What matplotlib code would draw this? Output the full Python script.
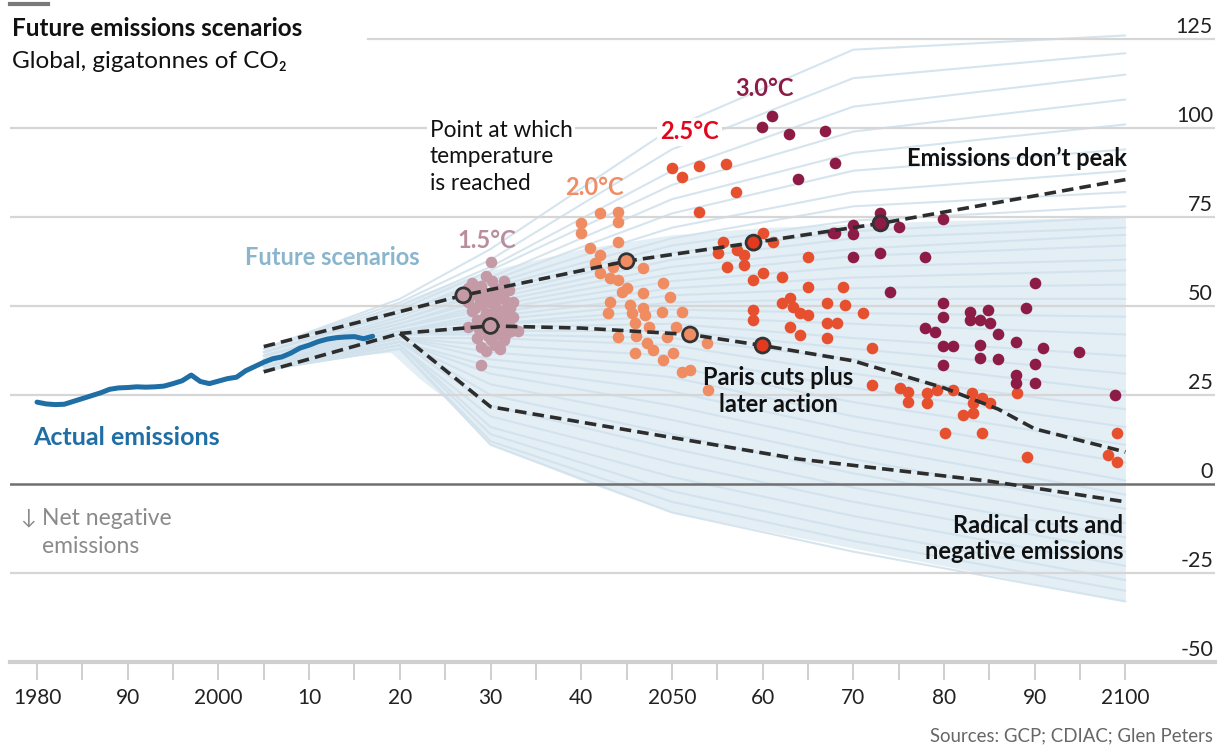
import matplotlib
matplotlib.use("Agg")
import matplotlib.pyplot as plt
from matplotlib.lines import Line2D

plt.rcParams['font.family'] = ['Lato', 'DejaVu Sans']

# ---- data ----
actual_years = list(range(1980, 2018))
actual_vals = [23.0, 22.5, 22.3, 22.4, 23.2, 24.0, 24.8, 25.6, 26.6, 27.0,
               27.1, 27.3, 27.2, 27.3, 27.5, 28.2, 29.0, 30.6, 28.8, 28.2,
               28.9, 29.6, 30.0, 31.8, 33.0, 34.2, 35.2, 35.7, 36.8, 38.2,
               39.0, 40.0, 40.7, 41.1, 41.3, 41.4, 40.8, 41.5]

fan_years = [2005, 2010, 2015, 2019, 2022, 2025, 2030, 2040, 2050, 2060, 2070, 2080, 2090, 2100]
fan_top = [38.5, 42, 46, 50, 53, 56, 60, 66, 70, 72, 73, 74, 74.5, 75]
fan_bottom = [31.5, 34, 36, 37, 30, 24, 11, 1, -8, -13, -18, -23, -28, -33]

scen_years = [2005, 2020, 2030, 2050, 2070, 2100]
scen_lines = [
    [38, 52, 66, 100, 122, 126],
    [38, 51, 63, 94, 114, 121],
    [38, 50, 61, 88, 106, 115],
    [37, 49, 60, 84, 99, 108],
    [37, 48, 58, 80, 93, 101],
    [37, 48, 57, 76, 88, 94],
    [36, 47, 56, 72, 82, 88],
    [36, 46, 55, 69, 78, 82],
    [36, 46, 54, 67, 74, 78],
    [36, 45, 53, 65, 71, 75],
    [35, 45, 52, 63, 69, 72],
    [35, 44, 51, 61, 66, 70],
    [35, 44, 50, 59, 64, 67],
    [35, 44, 49, 57, 61, 63],
    [35, 43, 48, 55, 58, 60],
    [34, 43, 47, 53, 55, 56],
    [34, 43, 46, 51, 52, 52],
    [34, 42, 45, 49, 48, 47],
    [34, 42, 45, 47, 45, 42],
    [34, 42, 44, 45, 41, 36],
    [33, 42, 43, 43, 38, 31],
    [33, 42, 42, 41, 35, 26],
    [33, 41, 41, 39, 31, 21],
    [33, 41, 39, 36, 27, 16],
    [33, 41, 37, 33, 23, 11],
    [33, 41, 35, 30, 19, 6],
    [33, 40, 33, 26, 15, 1],
    [32, 40, 31, 22, 11, -3],
    [32, 40, 28, 18, 7, -7],
    [32, 40, 25, 14, 3, -11],
    [32, 40, 22, 10, -1, -15],
    [32, 39, 19, 6, -5, -19],
    [32, 39, 16, 2, -9, -23],
    [32, 39, 14, -2, -13, -27],
    [32, 38, 12, -5, -16, -30],
    [32, 38, 11, -8, -19, -33],
]

nopeak_years = [2005, 2027, 2045, 2059, 2073, 2100]
nopeak_vals = [38.6, 53.0, 62.6, 67.8, 73.2, 85.5]
paris_years = [2005, 2020, 2030, 2040, 2052, 2060, 2070, 2080, 2086, 2090, 2100]
paris_vals = [31.5, 42.3, 44.4, 43.8, 42.0, 38.9, 34.6, 27.0, 21.0, 15.5, 9.0]
radical_years = [2020, 2030, 2064, 2085, 2100]
radical_vals = [42.3, 21.7, 7.0, 0.8, -5.0]

# points where temperature is reached on the highlighted pathways
mark_nopeak_years = [2027, 2045, 2059, 2073]
mark_nopeak_vals = [53.0, 62.6, 67.8, 73.2]
mark_paris_years = [2030, 2052, 2060]
mark_paris_vals = [44.4, 42.0, 38.9]

t15_years = [2030, 2029.5, 2031.5, 2028, 2027.5, 2029, 2030.5, 2032, 2028.5, 2030, 2031.5,
             2032.5, 2027.5, 2029, 2030.5, 2031.5, 2028, 2029.5, 2031, 2032.5, 2028.5, 2030,
             2032, 2027.5, 2029, 2031, 2033, 2028.5, 2030, 2031.5, 2029, 2031, 2029,
             2028.2, 2029.2, 2030.2, 2031.2, 2032.2, 2028.8, 2029.8, 2030.8, 2031.8, 2028.3,
             2029.3, 2030.3, 2031.3, 2032.3, 2028.7, 2029.7, 2030.7, 2031.7, 2029.5, 2030.5]
t15_vals = [62.5, 58.5, 57, 56.5, 55, 55.5, 55, 54.5, 53, 52.5, 52,
            51, 51, 50.5, 50, 49, 48.5, 48, 47.5, 47, 46, 45.5,
            45, 44, 43.5, 43, 43, 41, 40.5, 40.5, 38.5, 38, 33.5,
            54, 53.5, 57, 54, 49.5, 51.5, 51, 52.5, 46, 49.5,
            46.5, 48, 45, 43, 43.5, 41.5, 42, 42, 37.5, 39]

t20_years = [2042.1, 2044.1, 2044.1, 2040.0, 2040.0, 2044.1, 2041, 2042.1, 2046.8, 2042.1,
             2043.2, 2044.1, 2045, 2049, 2046.8, 2049.8, 2043.2, 2045.4, 2046.8, 2043,
             2045.6, 2047, 2048.9, 2051.1, 2045.9, 2044.1, 2047.3, 2049.5, 2050.1, 2045.9,
             2047.9, 2049, 2051.1, 2052, 2054, 2053.9, 2041.5, 2043.5, 2044.5, 2047.5,
             2046, 2050.5]
t20_vals = [76.0, 76.5, 73.7, 73.2, 70.4, 68.1, 66.2, 64.3, 60.6, 59.3,
            57.9, 57.3, 55, 56.4, 53.6, 52.5, 51.1, 50.3, 49.4, 48,
            48, 47.5, 48.3, 48.3, 45.2, 41.3, 39.6, 41.3, 36.8, 36.8,
            37.6, 34.8, 31.5, 32, 26.4, 39.6, 62, 61, 54, 44,
            41.5, 44]

t25_years = [2050, 2051.1, 2053, 2056, 2057.1, 2053, 2060, 2055.6, 2057.2, 2055.1,
             2058, 2061.1, 2056.1, 2058, 2065, 2060, 2058.9, 2062.1, 2065, 2068.9,
             2063, 2062.1, 2063.4, 2064.1, 2065, 2067.1, 2069.1, 2058.9, 2058.9, 2063,
             2064.1, 2067.1, 2068.2, 2067.1, 2071.1, 2072.1, 2072.1, 2075.1, 2076, 2076,
             2078.1, 2078.1, 2079.2, 2081, 2083.1, 2084.2, 2085.1, 2083.2, 2082.1, 2083.2,
             2088, 2080.1, 2084.2, 2089.2, 2099.1, 2098.1, 2099.1]
t25_vals = [88.7, 86.3, 89.3, 89.9, 82.1, 76.5, 70.5, 68.1, 65.7, 64.9,
            64.3, 68.1, 61, 61.5, 63.8, 59.2, 57.3, 58.2, 55.4, 55.4,
            52.2, 50.8, 49.8, 47.9, 47.5, 50.8, 50.3, 48.9, 46.1, 44.2,
            41.9, 45.1, 45.1, 40.9, 47.9, 38.1, 27.8, 26.9, 25.9, 23.1,
            25.5, 22.7, 26.4, 26.4, 25.5, 24.1, 22.7, 22.7, 19.4, 19.9,
            25.5, 14.2, 14.2, 7.7, 14.2, 8.1, 6.3]

t30_years = [2061, 2059.9, 2062.9, 2066.9, 2068, 2063.9, 2072.9, 2068, 2070, 2070,
             2075, 2079.9, 2070, 2072.9, 2077.9, 2074, 2090, 2079.9, 2079.9, 2089,
             2077.9, 2079, 2082.9, 2082.9, 2084.9, 2084, 2085.1, 2086, 2079.9, 2081,
             2084, 2087.9, 2090.9, 2094.9, 2079.9, 2084, 2086, 2090, 2087.9, 2087.9,
             2090, 2098.9, 2067.8]
t30_vals = [103.4, 100.4, 98.3, 99.2, 90.3, 85.7, 76, 70.4, 72.8, 70.2,
            72.1, 74.4, 63.9, 65, 63.9, 54, 56.4, 50.8, 47, 49.5,
            43.7, 42.8, 48.4, 46.1, 48.9, 46.1, 45.1, 42.1, 38.8, 38.8,
            39, 40, 38.3, 37.2, 33.4, 35.3, 35, 33.6, 30.6, 28.3,
            28.5, 25, 70.6]

grid_levels = [125, 100, 75, 50, 25, 0, -25, -50]
xtick_years = list(range(1980, 2101, 10))
xtick_labels = ['1980', '90', '2000', '10', '20', '30', '40', '2050', '60', '70', '80', '90', '2100']

c15 = '#c49aa7'
c20 = '#ef8c62'
c25 = '#e6502e'
c30 = '#8c1b45'

# ---- figure ----
fig = plt.figure(figsize=(12.19, 7.47), dpi=100)
ax = fig.add_axes([10 / 1219, 1 - 662 / 747, 1205 / 1219, 642 / 747])
ax.set_xlim(1977.02, 2109.88)
ax.set_ylim(-50, 130.34)

# fan of scenarios
ax.fill_between(fan_years, fan_bottom, fan_top, color='#e4eef5', lw=0, zorder=1)
for line in scen_lines:
    ax.plot(scen_years, line, color='#d2e2ed', lw=1.5, alpha=0.9, zorder=1.5,
            solid_capstyle='round')

# gridlines
for lev in grid_levels[1:-1]:
    if lev == 0:
        ax.axhline(lev, color='#707070', lw=1.8, zorder=2.5)
    else:
        ax.axhline(lev, color='#d6d6d6', lw=1.6, zorder=2.5)
ax.axhline(125, xmin=(2016.5 - 1977.02) / (2109.88 - 1977.02), color='#d6d6d6', lw=1.6, zorder=2.5)
for lev in grid_levels:
    ax.text(2109.66, lev + 3.3, str(lev), ha='right', va='center', fontsize=15.5, color='#222222')

# scatter of temperature points
dot = dict(s=70, linewidths=0, zorder=4)
ax.scatter(t15_years, t15_vals, color=c15, **dot)
ax.scatter(t20_years, t20_vals, color=c20, **dot)
ax.scatter(t25_years, t25_vals, color=c25, **dot)
ax.scatter(t30_years, t30_vals, color=c30, **dot)

# actual emissions
ax.plot(actual_years, actual_vals, color='#1f6ea5', lw=3.6, zorder=5, solid_capstyle='round')

# highlighted pathways
dash = dict(color='#2d2d2d', lw=2.6, ls=(0, (3.2, 1.7)), zorder=6)
ax.plot(nopeak_years, nopeak_vals, **dash)
ax.plot(paris_years, paris_vals, **dash)
ax.plot(radical_years, radical_vals, **dash)

ax.scatter(mark_nopeak_years, mark_nopeak_vals, s=115, color=[c15, c20, '#e33a1f', c30],
           edgecolors='#333333', linewidths=2, zorder=7)
ax.scatter(mark_paris_years, mark_paris_vals, s=115, color=[c15, c20, '#e33a1f'],
           edgecolors='#333333', linewidths=2, zorder=7)

# annotations
fs = 17
ax.text(2002.9, 63.5, 'Future scenarios', color='#8ab6cd', fontsize=fs, fontweight='bold',
        va='center', zorder=8)
ax.text(2026.4, 68.5, '1.5°C', color='#b98d9b', fontsize=fs, fontweight='bold', va='center', zorder=8)
# one text per line so the white backing stays tight
for txt, yv in [('Point at which', 99.4), ('temperature', 91.9), ('is reached', 84.3)]:
    ax.text(2023.3, yv, txt, color='#111111', fontsize=16.3, va='center', zorder=8,
            bbox=dict(facecolor='white', edgecolor='none', pad=2))
ax.text(2038.2, 83.4, '2.0°C', color='#f08c66', fontsize=fs, fontweight='bold', va='center', zorder=9)
ax.text(2048.7, 98.9, '2.5°C', color='#e3051b', fontsize=fs, fontweight='bold', va='center', zorder=8,
        bbox=dict(facecolor='white', edgecolor='none', pad=2))
ax.text(2057.0, 111.2, '3.0°C', color=c30, fontsize=fs, fontweight='bold', va='center', zorder=8)
ax.text(2100.2, 91.6, 'Emissions don’t peak', color='#111111', fontsize=fs, fontweight='bold',
        ha='right', va='center', zorder=8)
ax.text(2061.7, 33.2, 'Paris cuts plus\nlater action', color='#111111', fontsize=fs, fontweight='bold',
        ha='center', va='top', linespacing=1.23, zorder=8)
ax.text(2099.8, -8.4, 'Radical cuts and\nnegative emissions', color='#111111', fontsize=fs,
        fontweight='bold', ha='right', va='top', linespacing=1.18, zorder=8)
ax.text(1979.6, 13.2, 'Actual emissions', color='#1f6ea5', fontsize=18, fontweight='bold',
        va='center', zorder=8)
ax.text(1978.1, -9.3, '↓', color='#8a8a8a', fontsize=15, va='center', zorder=8)
ax.text(1980.6, -6.8, 'Net negative\nemissions', color='#8a8a8a', fontsize=16.5, va='top',
        linespacing=1.4, zorder=8)

# axes styling
for side in ['top', 'left', 'right']:
    ax.spines[side].set_visible(False)
ax.spines['bottom'].set_color('#cfcfcf')
ax.spines['bottom'].set_linewidth(3)
ax.set_yticks([])
ax.set_xticks(xtick_years)
ax.set_xticklabels(xtick_labels)
ax.set_xticks(list(range(1985, 2100, 10)), minor=True)
ax.tick_params(axis='x', which='both', length=13, width=1.3, color='#cccccc', pad=6,
               labelsize=15, labelcolor='#222222')
ax.set_facecolor('none')

# title block
fig.add_artist(Line2D([10 / 1219, 48 / 1219], [1 - 4 / 747] * 2, color='#7a7a7a', lw=3,
                      transform=fig.transFigure))
fig.text(12 / 1219, 1 - 28 / 747, 'Future emissions scenarios', fontsize=17.5, fontweight='bold',
         va='center', color='#111111')
fig.text(12 / 1219, 1 - 62 / 747, 'Global, gigatonnes of CO₂', fontsize=17.5, va='center',
         color='#111111')
fig.text(1213 / 1219, 1 - 736 / 747, 'Sources: GCP; CDIAC; Glen Peters', fontsize=13.4,
         ha='right', va='center', color='#666666')

fig.savefig('out.png', dpi=100)
